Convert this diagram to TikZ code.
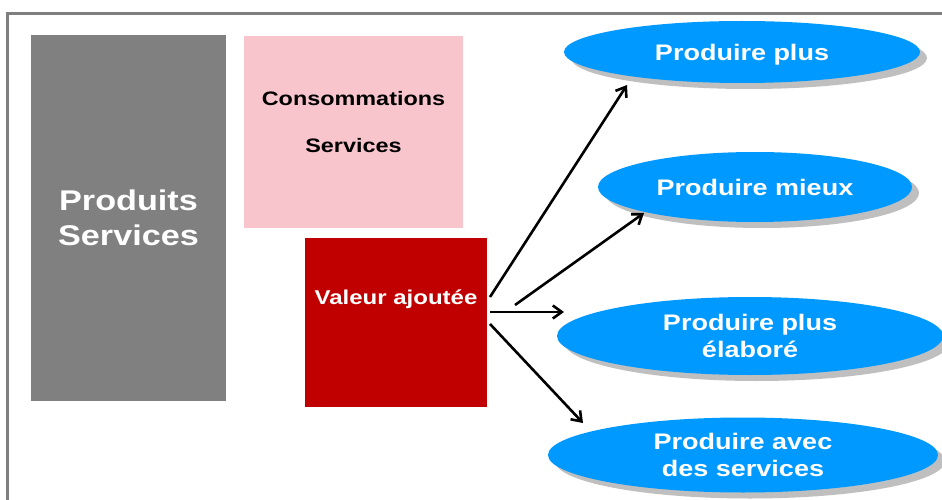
\documentclass[tikz,border=0pt]{standalone}
\usepackage{fontspec}
\setmainfont{Liberation Sans}[FakeStretch=1.2]
\usetikzlibrary{arrows.meta,shapes.geometric,shadows}
\definecolor{framegray}{HTML}{7F7F7F}
\definecolor{boxgray}{HTML}{808080}
\definecolor{boxpink}{HTML}{F9C5CD}
\definecolor{boxred}{HTML}{C00000}
\definecolor{ellblue}{HTML}{0099FF}
\definecolor{shadowgray}{HTML}{BFBFBF}
\tikzset{
  blockbox/.style={rectangle, inner sep=0pt, draw=none},
  goal/.style={ellipse, fill=ellblue, inner sep=0pt, text=white, align=center,
    font=\bfseries\fontsize{22.5}{26.5}\selectfont,
    drop shadow={shadow xshift=7pt, shadow yshift=-6pt, fill=shadowgray, opacity=1}},
  flow/.style={line width=2.6pt, -{Straight Barb[length=9pt,width=13pt,line width=2.6pt]}},
}
\begin{document}
\begin{tikzpicture}[x=1pt,y=-1pt]
\useasboundingbox (0,0) rectangle (942,500);
\clip (0,0) rectangle (942,500);
\fill[white] (0,0) rectangle (942,500);
\draw[framegray, line width=2.2pt] (7.5,13.5) rectangle (960,520);
% left boxes
\node[blockbox, fill=boxgray, minimum width=195pt, minimum height=366pt,
  text=white, align=center, font=\bfseries\fontsize{28.5}{35}\selectfont]
  (prod) at (128.5,218) {Produits\\Services};
\node[blockbox, fill=boxpink, minimum width=219pt, minimum height=192pt] (conso) at (353.5,132) {};
\node[font=\bfseries\fontsize{19.5}{23}\selectfont, inner sep=0pt] (consotxt) at (353.5,99) {Consommations};
\node[font=\bfseries\fontsize{19.5}{23}\selectfont, inner sep=0pt] (servtxt) at (353.5,146) {Services};
\node[blockbox, fill=boxred, minimum width=182pt, minimum height=169pt] (va) at (396,322.5) {};
\node[font=\bfseries\fontsize{20}{24}\selectfont, text=white, inner sep=0pt] (vatxt) at (396,299) {Valeur ajoutée};
% ellipses
\node[goal, minimum width=356pt, minimum height=62pt, text depth=0pt] (e1) at (742,52) {Produire plus};
\node[goal, minimum width=314pt, minimum height=70pt, text depth=0pt] (e2) at (755,187) {Produire mieux};
\node[goal, minimum width=386pt, minimum height=78pt] (e3) at (750,336) {Produire plus\\élaboré};
\node[goal, minimum width=390pt, minimum height=75pt] (e4) at (743,455) {Produire avec\\des services};
% arrow end points
\coordinate (s1) at (490,297);
\coordinate (t1) at (627,85);
\coordinate (s2) at (515,305);
\coordinate (t2) at (644,213);
\coordinate (s3) at (490,312);
\coordinate (t3) at (564,312);
\coordinate (s4) at (490,324);
\coordinate (t4) at (583,423);
\draw[flow] (s1) -- (t1);
\draw[flow] (s2) -- (t2);
\draw[flow] (s3) -- (t3);
\draw[flow] (s4) -- (t4);
\end{tikzpicture}
\end{document}
